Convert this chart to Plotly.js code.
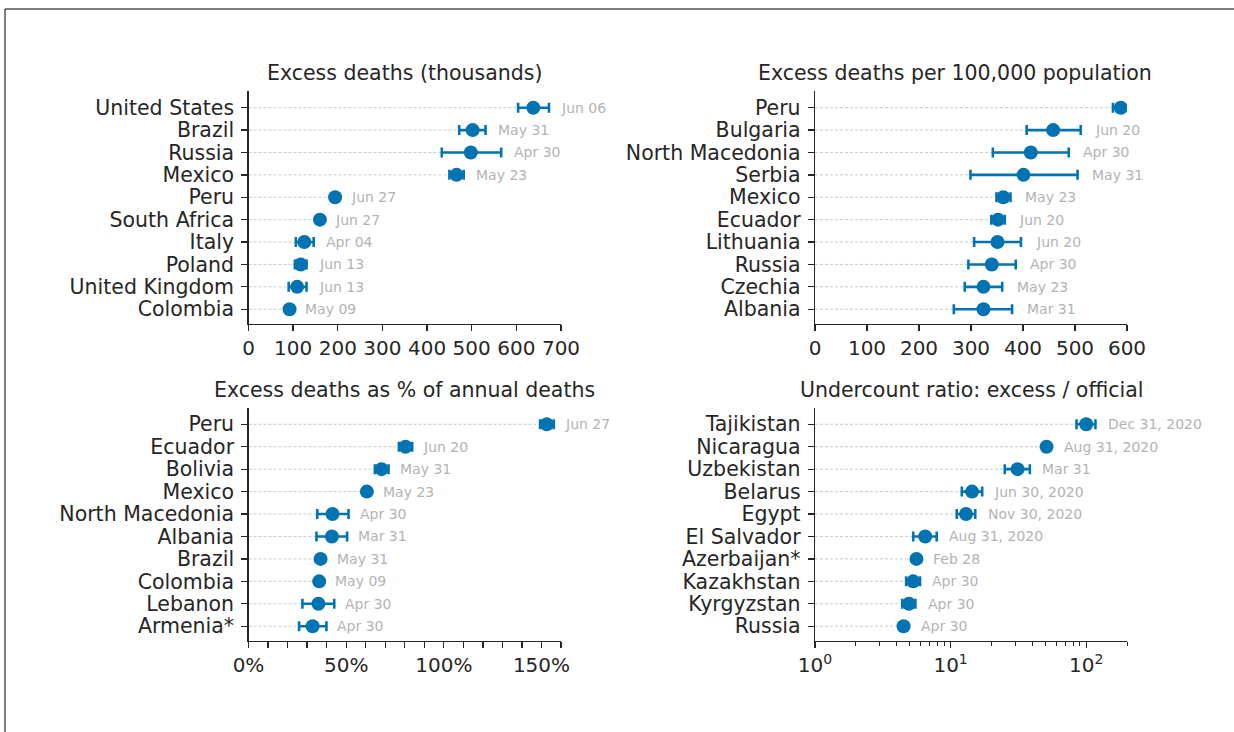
<!DOCTYPE html>
<html>
<head>
<meta charset="utf-8">
<script src="https://cdn.plot.ly/plotly-3.0.1.min.js"></script>
<style>
  html, body { margin: 0; padding: 0; background: #fff; }
  #chart { width: 1234px; height: 732px; }
</style>
</head>
<body>
<div id="chart"></div>
<script>
// ---------- Data ----------
const titles = [
  'Excess deaths (thousands)',
  'Excess deaths per 100,000 population',
  'Excess deaths as % of annual deaths',
  'Undercount ratio: excess / official'
];

const cats1 = ['United States','Brazil','Russia','Mexico','Peru','South Africa','Italy','Poland','United Kingdom','Colombia'];
const vals1 = [638, 502, 498, 466, 194, 160, 125, 117, 109, 92];
const lo1   = [604, 472, 433, 450, null, null, 106, 104, 90, null];
const hi1   = [673, 531, 566, 482, null, null, 146, 130, 130, null];
const dates1 = ['Jun 06','May 31','Apr 30','May 23','Jun 27','Jun 27','Apr 04','Jun 13','Jun 13','May 09'];

const cats2 = ['Peru','Bulgaria','North Macedonia','Serbia','Mexico','Ecuador','Lithuania','Russia','Czechia','Albania'];
const vals2 = [588, 458, 415, 401, 362, 352, 351, 340, 324, 324];
const lo2   = [573, 407, 342, 299, 349, 339, 306, 295, 288, 267];
const hi2   = [603, 511, 488, 505, 376, 365, 396, 386, 360, 379];
const dates2 = ['Jun 27','Jun 20','Apr 30','May 31','May 23','Jun 20','Jun 20','Apr 30','May 23','Mar 31'];

const cats3 = ['Peru','Ecuador','Bolivia','Mexico','North Macedonia','Albania','Brazil','Colombia','Lebanon','Armenia*'];
const vals3 = [152.7, 80.4, 68.1, 60.6, 43.0, 42.7, 36.9, 36.2, 35.8, 32.8];
const lo3   = [149.3, 77.0, 64.7, null, 35.2, 34.8, null, null, 27.6, 25.9];
const hi3   = [156.3, 83.8, 71.7, null, 51.2, 50.5, null, null, 43.9, 39.9];
const dates3 = ['Jun 27','Jun 20','May 31','May 23','Apr 30','Mar 31','May 31','May 09','Apr 30','Apr 30'];

const cats4 = ['Tajikistan','Nicaragua','Uzbekistan','Belarus','Egypt','El Salvador','Azerbaijan*','Kazakhstan','Kyrgyzstan','Russia'];
const vals4 = [100, 51.0, 31.2, 14.4, 13.0, 6.5, 5.6, 5.3, 4.93, 4.5];
const lo4   = [84.9, null, 25.1, 12.1, 11.1, 5.3, null, 4.7, 4.4, null];
const hi4   = [117, null, 38.4, 17.1, 15.2, 7.9, null, 5.95, 5.5, null];
const dates4 = ['Dec 31, 2020','Aug 31, 2020','Mar 31','Jun 30, 2020','Nov 30, 2020','Aug 31, 2020','Feb 28','Apr 30','Apr 30','Apr 30'];

const ticks1 = [0, 100, 200, 300, 400, 500, 600, 700];
const ticks2 = [0, 100, 200, 300, 400, 500, 600];
const ticks3 = [0, 50, 100, 150];
const tickLabels3 = ['0%', '50%', '100%', '150%'];
const minor3 = [10,20,30,40,60,70,80,90,110,120,130,140,160];
const ticks4 = [1, 10, 100];
const tickLabels4 = ['10<sup>0</sup>','10<sup>1</sup>','10<sup>2</sup>'];
const minor4 = [2,3,4,5,6,7,8,9,20,30,40,50,60,70,80,90,200];

// ---------- Styling ----------
const W = 1234, H = 732;
const BLUE = '#0173B2';
const INK = '#262626';
const FONT = 'DejaVu Sans, sans-serif';
const px = (a, b) => [a / W, b / W];
const py = (top, bottom) => [(H - bottom) / H, (H - top) / H];

const xDomL = px(248.5, 561), xDomR = px(815, 1127);
const yDomT = py(91, 324), yDomB = py(407.6, 641);
const yRange = [9.66, -0.745];

const panels = [
  {cats: cats1, vals: vals1, lo: lo1, hi: hi1, dates: dates1, xd: xDomL, yd: yDomT, shift: 10.5, shift0: 13.5, log: false, base: 0, tshift: 0},
  {cats: cats2, vals: vals2, lo: lo2, hi: hi2, dates: dates2, xd: xDomR, yd: yDomT, shift: 12.6, shift0: 14, log: false, base: 0, tshift: -16},
  {cats: cats3, vals: vals3, lo: lo3, hi: hi3, dates: dates3, xd: xDomL, yd: yDomB, shift: 9, shift0: 14, log: false, base: 0, tshift: 0},
  {cats: cats4, vals: vals4, lo: lo4, hi: hi4, dates: dates4, xd: xDomR, yd: yDomB, shift: 10.3, shift0: 15, log: true, base: 1, tshift: 0}
];

const traces = [];
const annotations = [];
const layout = {
  width: W, height: H,
  margin: {l: 0, r: 0, t: 0, b: 0},
  paper_bgcolor: '#fff', plot_bgcolor: 'rgba(0,0,0,0)',
  showlegend: false,
  font: {family: FONT, color: INK, size: 20},
  shapes: [
    {type: 'line', xref: 'paper', yref: 'paper', x0: 5 / W, x1: 1, y0: (H - 9) / H, y1: (H - 9) / H, line: {color: '#000', width: 1}},
    {type: 'line', xref: 'paper', yref: 'paper', x0: 5 / W, x1: 5 / W, y0: 0, y1: (H - 9) / H, line: {color: '#000', width: 1}}
  ]
};

panels.forEach((p, i) => {
  const n = i + 1;
  const xa = 'x' + n, ya = 'y' + n;

  // dashed guide lines from the axis to each point
  const lx = [], ly = [];
  p.vals.forEach((v, k) => { lx.push(p.base, v, null); ly.push(p.cats[k], p.cats[k], null); });
  traces.push({
    type: 'scatter', mode: 'lines', x: lx, y: ly, xaxis: xa, yaxis: ya,
    line: {color: '#c4c4c4', width: 0.9, dash: '3px,2px'}, hoverinfo: 'skip'
  });

  // points with error bars
  traces.push({
    type: 'scatter', mode: 'markers', x: p.vals, y: p.cats, xaxis: xa, yaxis: ya,
    marker: {color: BLUE, size: 14},
    error_x: {
      type: 'data', symmetric: false,
      array: p.vals.map((v, k) => p.hi[k] == null ? 0 : p.hi[k] - v),
      arrayminus: p.vals.map((v, k) => p.lo[k] == null ? 0 : v - p.lo[k]),
      color: BLUE, thickness: 2.6, width: 5
    },
    hoverinfo: 'x+y'
  });

  // date labels
  p.dates.forEach((d, k) => {
    const hasErr = p.hi[k] != null;
    const xv = hasErr ? p.hi[k] : p.vals[k];
    annotations.push({
      xref: xa, yref: ya, x: p.log ? Math.log10(xv) : xv, y: k,
      text: d, showarrow: false, xanchor: 'left', yanchor: 'middle',
      xshift: hasErr ? p.shift : p.shift0,
      font: {family: FONT, size: 14, color: '#b3b3b3'}
    });
  });

  // panel title
  annotations.push({
    xref: 'paper', yref: 'paper', x: (p.xd[0] + p.xd[1]) / 2,
    y: p.yd[1] + 18 / H, yanchor: 'middle', xanchor: 'center', xshift: p.tshift,
    text: titles[i], showarrow: false,
    font: {family: FONT, size: 20.5, color: INK}
  });

  const xaxis = {
    domain: p.xd, anchor: ya,
    showline: true, linecolor: INK, linewidth: 1.3,
    ticks: 'outside', ticklen: 6, tickwidth: 1.3, tickcolor: INK,
    showgrid: false, zeroline: false, fixedrange: true,
    tickfont: {family: FONT, size: 20, color: INK}
  };
  if (i === 0) { xaxis.range = [0, 700]; xaxis.tickmode = 'array'; xaxis.tickvals = ticks1; }
  if (i === 1) { xaxis.range = [0, 600]; xaxis.tickmode = 'array'; xaxis.tickvals = ticks2; }
  if (i === 2) {
    xaxis.range = [0, 160]; xaxis.tickmode = 'array'; xaxis.tickvals = ticks3; xaxis.ticktext = tickLabels3;
    xaxis.minor = {tickmode: 'array', tickvals: minor3, ticks: 'outside', ticklen: 6, tickwidth: 1.3, tickcolor: INK, showgrid: false};
  }
  if (i === 3) {
    xaxis.type = 'log'; xaxis.range = [0, Math.log10(200)];
    xaxis.tickmode = 'array'; xaxis.tickvals = ticks4; xaxis.ticktext = tickLabels4;
    xaxis.minor = {tickmode: 'array', tickvals: minor4, ticks: 'outside', ticklen: 3.5, tickwidth: 1, tickcolor: INK, showgrid: false};
  }
  layout['xaxis' + n] = xaxis;

  layout['yaxis' + n] = {
    domain: p.yd, anchor: xa, type: 'category',
    categoryorder: 'array', categoryarray: p.cats,
    range: yRange,
    tickmode: 'array', tickvals: p.cats, ticktext: p.cats,
    ticklabelstandoff: 3,
    showline: true, linecolor: INK, linewidth: 1.3,
    ticks: 'outside', ticklen: 6, tickwidth: 1.3, tickcolor: INK,
    showgrid: false, zeroline: false, fixedrange: true,
    tickfont: {family: FONT, size: 20.5, color: INK}
  };
});

layout.annotations = annotations;

Plotly.newPlot('chart', traces, layout, {displayModeBar: false, staticPlot: true});
</script>
</body>
</html>
